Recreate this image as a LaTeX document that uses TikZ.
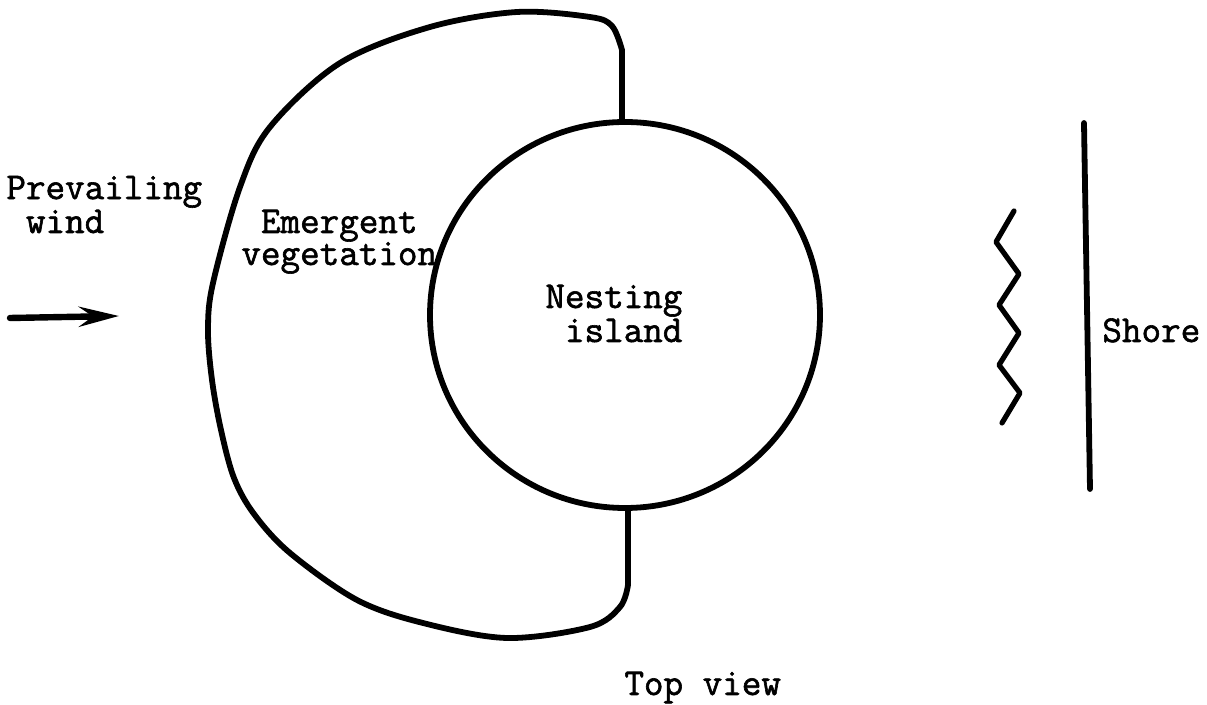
\documentclass[tikz,border=0pt]{standalone}
\usepackage{fontspec}
\setmonofont[FakeBold=1.6]{Latin Modern Mono}
\usetikzlibrary{arrows.meta}
\tikzset{
  ink/.style={line width=2.9pt, line cap=round, line join=round},
  lbl/.style={font=\ttfamily\fontsize{19}{15}\selectfont, inner sep=0pt, anchor=base west, align=left},
}
\begin{document}
\begin{tikzpicture}[x=0.5pt,y=-0.5pt]
\useasboundingbox (0,0) rectangle (1207,705);
% emergent vegetation outline
\coordinate (topjoin) at (622,122);
\coordinate (botjoin) at (628,510);
\draw[ink] (topjoin) -- (622,50) -- plot[smooth, tension=0.55] coordinates {
 (622,50) (612,26) (590,17) (517,12) (430,27) (340,63) (270,127) (240,187)
 (213,283) (208,330) (212,380) (221,430) (234,478) (254,514) (290,553) (357,600)
 (423,623) (507,638) (590,627) (620,607) (628,585)} -- (botjoin);
% nesting island
\draw[ink] (625,315) ellipse [x radius=195, y radius=193];
% wind arrow
\coordinate (wa) at (10,318);
\coordinate (wb) at (119,316);
\draw[ink, line width=3.2pt, -{Stealth[length=20pt, width=10pt, inset=7pt]}] (wa) -- (wb);
% waves
\draw[ink, line width=2.6pt] plot coordinates {(1014,211) (996,242) (1019,274) (999,305) (1019,333) (999,365) (1020,393) (1002,423)};
% shore line
\coordinate (sa) at (1084,123);
\coordinate (sb) at (1090,489);
\draw[ink] (sa) -- (sb);
% labels
\node[lbl, font=\ttfamily\fontsize{19}{15}\selectfont] (wind) at (6,233) {Prevailing\\\hphantom{P}wind};
\node[lbl, font=\ttfamily\fontsize{19}{16}\selectfont] (veg) at (241,265) {\hphantom{v}Emergent\\vegetation};
\node[lbl, font=\ttfamily\fontsize{19}{17}\selectfont] (isl) at (545,342) {Nesting\\\hphantom{N}island};
\node[lbl] (shore) at (1102,342) {Shore};
\node[lbl] (top) at (624,695) {Top view};
\end{tikzpicture}
\end{document}
